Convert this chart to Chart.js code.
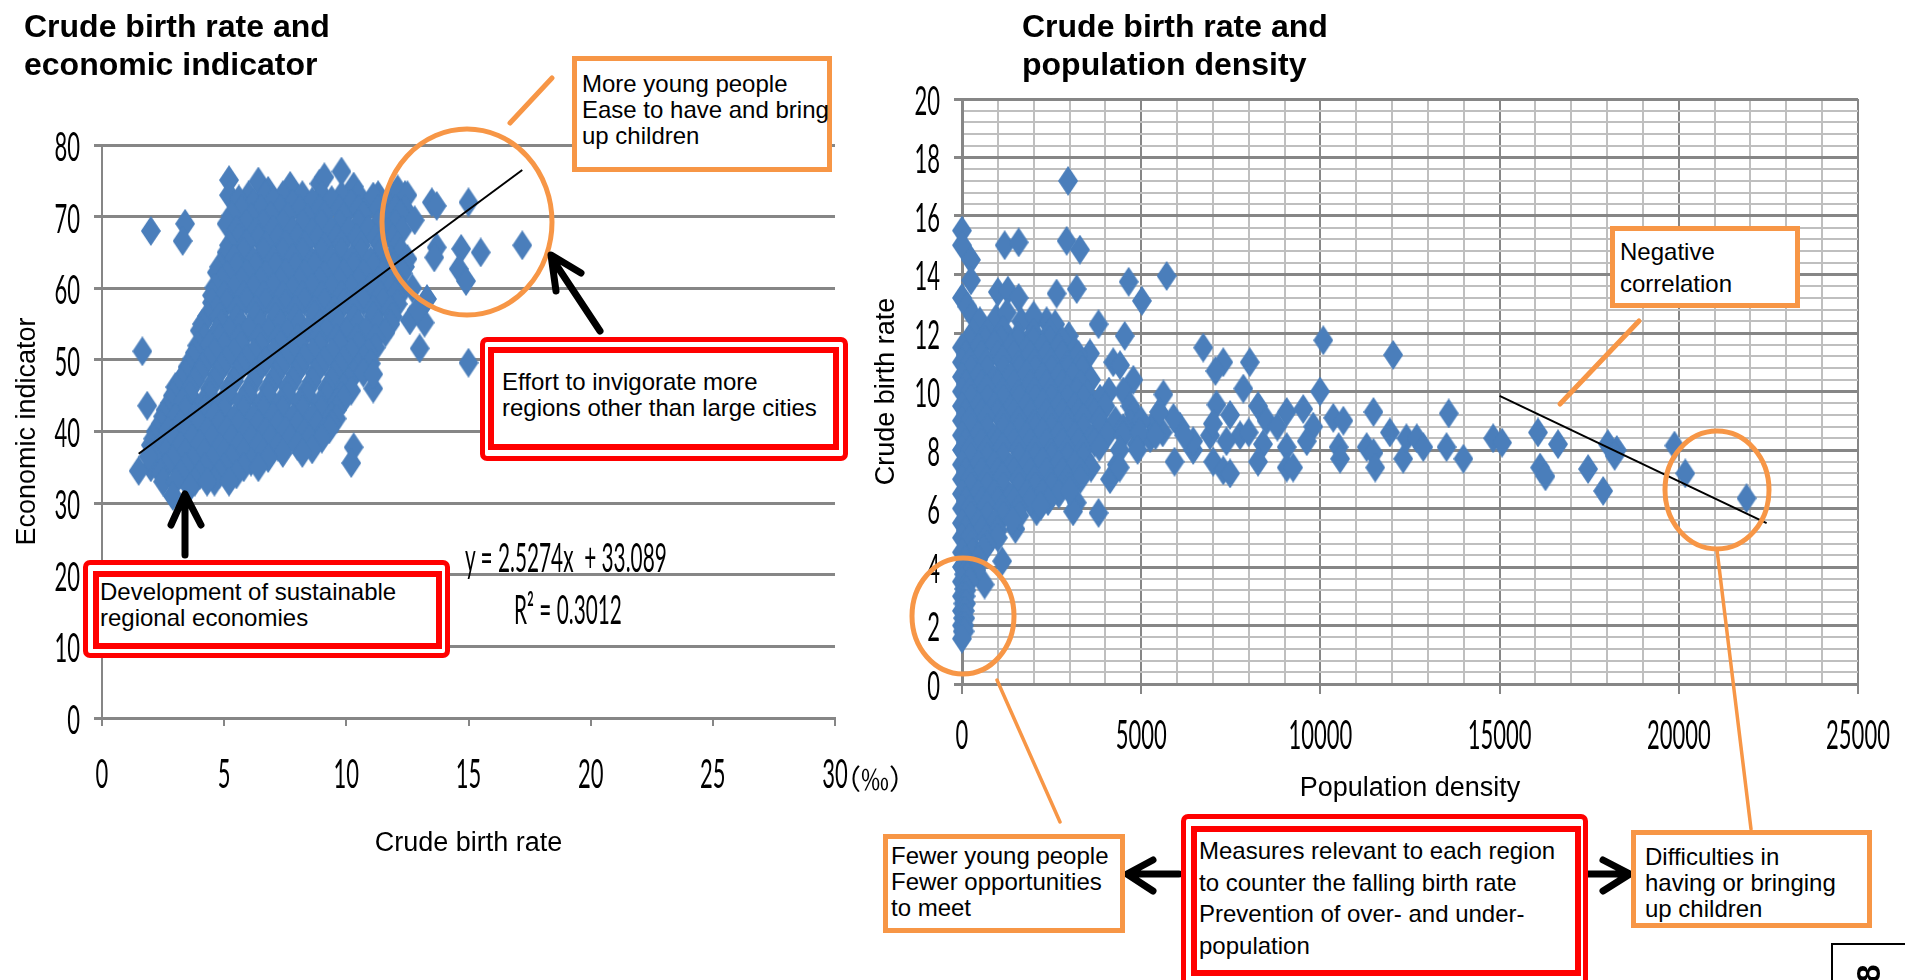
<!DOCTYPE html>
<html>
<head>
<meta charset="utf-8">
<title>Crude birth rate charts</title>
<script src="https://cdn.jsdelivr.net/npm/chart.js@4/dist/chart.umd.min.js"></script>
<style>
  html, body { margin: 0; padding: 0; background: #fff; overflow: hidden; }
  #page { position: relative; width: 1905px; height: 980px; overflow: hidden; font-family: "Liberation Sans", Arial, sans-serif; color: #000; }
  canvas { position: absolute; }
  svg { position: absolute; left: 0; top: 0; }
  .head { position: absolute; font-weight: bold; font-size: 32px; line-height: 38px; white-space: nowrap; }
  .box { position: absolute; box-sizing: border-box; background: #fff; white-space: nowrap; font-size: 24px; }
  .orange { border: 5px solid #f79646; }
  .outer { border: 5px solid #ff0000; border-radius: 7px; }
  .inner { border: 6px solid #ff0000; }
  .narrow { position: absolute; font-family: Lato, sans-serif; font-size: 40px; white-space: pre; transform-origin: left top; transform: scaleX(0.52); }
</style>
</head>
<body>
<div id="page">
  <canvas id="econChart" width="850" height="750" style="left:0;top:120px"></canvas>
  <canvas id="densityChart" width="1045" height="760" style="left:860px;top:80px"></canvas>

  <svg width="1905" height="980" fill="none" stroke-linecap="round" stroke-linejoin="round">
    <g stroke="#f79646" stroke-width="5">
      <ellipse cx="467" cy="222" rx="85" ry="93"/>
      <ellipse cx="963" cy="616" rx="51" ry="58"/>
      <ellipse cx="1717" cy="490" rx="52" ry="59"/>
      <path d="M510 123L552 78"/>
      <path d="M1639 321L1560 404"/>
    </g>
    <g stroke="#f79646" stroke-width="3.5">
      <path d="M997 680L1060 822"/>
      <path d="M1717 550L1751 829"/>
    </g>
    <g stroke="#000" stroke-width="7">
      <path d="M600 331L553 260M556 291L551 255L581 273"/>
      <path d="M185 555V498M171 525L185 494L201 525"/>
      <path d="M1179 874H1132M1153 860L1127 874L1153 891"/>
      <path d="M1583 874H1626M1603 860L1630 874L1603 891"/>
    </g>
  </svg>

  <div class="head" style="left:24px;top:7px">Crude birth rate and<br>economic indicator</div>
  <div class="head" style="left:1022px;top:7px">Crude birth rate and<br>population density</div>

  <div class="box orange" style="left:572px;top:56px;width:260px;height:116px;padding:10px 0 0 5px;line-height:26px">More young people<br>Ease to have and bring<br>up children</div>

  <div class="box outer" style="left:480px;top:337px;width:368px;height:124px"></div>
  <div class="box inner" style="left:488px;top:347px;width:351px;height:103px;padding:16px 0 0 8px;line-height:26px">Effort to invigorate more<br>regions other than large cities</div>

  <div class="box outer" style="left:83px;top:560px;width:367px;height:98px"></div>
  <div class="box inner" style="left:93px;top:571px;width:349px;height:78px;padding:2px 0 0 1px;line-height:26px">Development of sustainable<br>regional economies</div>

  <div class="narrow" style="left:465px;top:533px">y = 2.5274x  + 33.089</div>
  <div class="narrow" style="left:514px;top:585px">R² = 0.3012</div>

  <div style="position:absolute;left:833px;top:765px;font-family:'Noto Sans CJK JP',sans-serif;font-size:28px;line-height:26px;white-space:nowrap">（‰）</div>

  <div class="box orange" style="left:1610px;top:226px;width:190px;height:82px;padding:5px 0 0 5px;line-height:32px">Negative<br>correlation</div>

  <div class="box orange" style="left:883px;top:834px;width:242px;height:99px;padding:4px 0 0 3px;line-height:26px">Fewer young people<br>Fewer opportunities<br>to meet</div>

  <div class="box outer" style="left:1181px;top:814px;width:407px;height:180px"></div>
  <div class="box inner" style="left:1191px;top:826px;width:390px;height:150px;padding:3px 0 0 2px;line-height:31.5px">Measures relevant to each region<br>to counter the falling birth rate<br>Prevention of over- and under-<br>population</div>

  <div class="box orange" style="left:1631px;top:830px;width:241px;height:98px;padding:9px 0 0 9px;line-height:26px">Difficulties in<br>having or bringing<br>up children</div>

  <div style="position:absolute;left:1831px;top:943px;width:90px;height:60px;box-sizing:border-box;border:2px solid #000"></div>
  <div style="position:absolute;left:1859px;top:957px;font-weight:bold;font-size:33px;line-height:33px;transform:rotate(-90deg)">8</div>
</div>

<script>
// Birth rate (x) against economic indicator (y)
const econPoints = [
  [5.2,75.1],[6.4,74.9],[6.8,73.6],[7.7,74.3],[8.9,74.6],[9.1,75.5],[9.8,76.3],[10.3,74.2],
  [5.2,73],[6.0,73],[6.7,73],[7.4,73],[8.2,73],[9.0,73],[9.8,73],[10.5,73],[11.3,73],[12.4,73],
  [5.6,72.4],[6.2,71.9],[7.0,72.2],[7.8,71.8],[8.6,72.1],[9.4,72.3],[10.2,71.8],[11.0,72.0],[11.1,72.8],[11.8,71.9],[12.1,73.8],[12.5,73.0],
  [5.7,71],[6.5,71],[7.3,71],[8.1,71],[8.9,71],[9.7,71],[10.5,71],[11.3,71],[12.0,71],[12.4,71],
  [5.3,70.2],[6.1,69.9],[6.9,70.1],[7.6,70.0],[8.4,69.8],[9.1,70.2],[9.9,70.0],[10.7,70.1],[11.5,69.8],[12.2,70.3],
  [5.1,69],[5.9,69],[6.6,69],[7.4,69],[8.2,69],[9.0,69],[9.7,69],[10.5,69],[11.3,69],[12.0,69],
  [5.5,68.1],[6.3,67.9],[7.0,68.2],[7.8,68.0],[8.6,67.8],[9.4,68.1],[10.1,68.0],[10.9,68.2],[11.7,67.9],[12.3,68.1],
  [5.6,67],[6.4,67],[7.2,67],[8.0,67],[8.8,67],[9.6,67],[10.4,67],[11.2,67],[11.9,67],
  [5.2,66.0],[5.9,66.2],[6.7,65.9],[7.5,66.1],[8.3,66.0],[9.1,65.8],[9.8,66.1],[10.6,66.0],[11.4,66.2],[12.1,65.9],
  [5.1,65],[5.8,65],[6.6,65],[7.4,65],[8.2,65],[9.0,65],[9.8,65],[10.6,65],[11.4,65],[12.2,65],
  [5.4,64.1],[6.2,63.9],[7.0,64.0],[7.8,64.2],[8.6,63.8],[9.4,64.0],[10.2,64.1],[11.0,63.9],[11.8,64.0],[12.5,64.1],
  [4.8,63],[5.5,63],[6.3,63],[7.1,63],[7.9,63],[8.7,63],[9.5,63],[10.3,63],[11.1,63],[11.9,63],[12.4,63],
  [4.7,62.2],[5.1,61.8],[5.9,62.0],[6.7,61.9],[7.5,62.1],[8.3,62.0],[9.1,61.8],[9.9,62.1],[10.7,62.0],[11.5,61.9],[12.3,62.1],
  [4.9,61],[5.7,61],[6.5,61],[7.3,61],[8.1,61],[8.9,61],[9.7,61],[10.5,61],[11.3,61],[12.1,61],
  [4.6,60.1],[5.4,59.9],[6.2,60.0],[7.0,60.2],[7.8,59.8],[8.6,60.1],[9.4,60.0],[10.2,59.9],[11.0,60.1],[11.8,60.0],[12.3,59.7],
  [4.5,59],[5.0,59],[5.8,59],[6.6,59],[7.4,59],[8.2,59],[9.0,59],[9.8,59],[10.6,59],[11.4,59],[12.0,59],
  [4.5,58.0],[5.1,57.9],[5.9,58.2],[6.7,58.0],[7.5,57.8],[8.3,58.1],[9.1,58.0],[9.9,57.9],[10.7,58.1],[11.5,58.0],[12.1,57.8],
  [4.7,57],[5.5,57],[6.3,57],[7.1,57],[7.9,57],[8.7,57],[9.5,57],[10.3,57],[11.1,57],[11.8,57],
  [4.3,56.1],[4.8,56.0],[5.5,55.8],[6.3,56.1],[7.1,56.0],[7.9,55.9],[8.7,56.2],[9.5,56.0],[10.3,55.8],[11.1,56.1],[11.9,56.0],
  [4.1,55],[4.9,55],[5.7,55],[6.5,55],[7.3,55],[8.1,55],[8.9,55],[9.7,55],[10.5,55],[11.3,55],[11.8,55],
  [4.0,54.1],[4.7,53.9],[5.2,54.0],[6.0,54.2],[6.8,54.0],[7.6,53.8],[8.4,54.1],[9.2,54.0],[10.0,53.9],[10.8,54.1],[11.6,53.8],
  [4.2,53],[4.8,53],[5.6,53],[6.4,53],[7.2,53],[8.0,53],[8.8,53],[9.6,53],[10.4,53],[11.2,53],
  [3.9,52.0],[4.4,52.1],[5.0,51.9],[5.7,52.0],[6.5,51.8],[7.3,52.1],[8.1,52.0],[8.9,51.9],[9.7,52.2],[10.5,52.0],[11.2,51.7],
  [3.8,51],[4.6,51],[5.4,51],[6.2,51],[7.0,51],[7.8,51],[8.6,51],[9.4,51],[10.2,51],[10.9,51],
  [3.7,50.2],[4.3,49.9],[5.1,50.0],[5.9,50.1],[6.7,49.8],[7.5,50.0],[8.3,50.2],[9.1,49.9],[9.9,50.0],[10.7,50.1],[11.0,49.5],
  [3.5,49],[4.1,49],[4.9,49],[5.7,49],[6.5,49],[7.3,49],[8.1,49],[8.9,49],[9.7,49],[10.5,49],
  [3.4,48.0],[4.0,48.1],[4.7,47.9],[5.5,48.0],[6.3,48.2],[7.1,47.8],[7.9,48.0],[8.7,48.1],[9.5,47.9],[10.3,48.0],[10.7,48.2],
  [3.2,47],[3.8,47],[4.6,47],[5.4,47],[6.2,47],[7.0,47],[7.8,47],[8.6,47],[9.4,47],[10.1,47],
  [3.0,46.2],[3.6,45.9],[4.4,46.0],[5.2,46.1],[6.0,45.8],[6.8,46.0],[7.6,46.2],[8.4,45.9],[9.2,46.0],[9.9,46.1],[10.2,45.7],
  [2.9,45],[3.6,45],[4.4,45],[5.2,45],[6.0,45],[6.8,45],[7.6,45],[8.4,45],[9.2,45],[9.8,45],
  [2.8,44.0],[3.3,44.1],[4.1,43.9],[4.9,44.0],[5.7,44.2],[6.5,43.8],[7.3,44.0],[8.1,44.1],[8.9,43.9],[9.6,44.0],[9.9,44.5],
  [2.6,43],[3.4,43],[4.2,43],[5.0,43],[5.8,43],[6.6,43],[7.4,43],[8.2,43],[9.0,43],[9.6,43],
  [2.5,42.1],[3.0,41.9],[3.8,42.0],[4.6,42.2],[5.4,41.8],[6.2,42.0],[7.0,42.1],[7.8,41.9],[8.6,42.0],[9.4,42.1],[9.6,41.8],
  [2.4,41],[3.2,41],[4.0,41],[4.8,41],[5.6,41],[6.4,41],[7.2,41],[8.0,41],[8.8,41],[9.4,41],
  [2.2,40.0],[2.7,40.1],[3.5,39.9],[4.3,40.0],[5.1,40.2],[5.9,39.8],[6.7,40.0],[7.5,40.1],[8.3,39.9],[9.1,40.0],[9.3,40.3],
  [2.1,39],[2.9,39],[3.7,39],[4.5,39],[5.3,39],[6.1,39],[6.9,39],[7.7,39],[8.5,39],[9.0,39],
  [2.0,38.1],[2.4,37.9],[3.2,38.0],[4.0,38.2],[4.8,37.8],[5.6,38.0],[6.4,38.1],[7.2,37.9],[8.0,38.0],[8.6,37.5],
  [2.0,37],[2.6,37],[3.4,37],[4.2,37],[5.0,37],[5.8,37],[6.6,37],[7.4,37],[8.2,37],
  [2.2,36.0],[2.9,36.1],[3.7,35.9],[4.5,36.0],[5.3,36.2],[6.1,35.8],[6.8,36.3],
  [2.0,35],[2.6,35],[3.4,35],[4.2,35],[5.0,35],[5.8,35],[6.4,35],
  [2.4,34.2],[3.2,34.0],[4.0,33.9],[4.8,34.1],[5.5,34.0],
  [2.5,33],[3.0,33],[3.8,33],[4.6,33],[5.2,33],
  [2.9,31.0],[3.6,32.2],[4.3,33.0],
  [1.5,34.5],[1.9,36.5],[1.85,43.6],[1.65,51.2],[2.0,68.0],[3.4,69.0],[3.3,66.6],
  [17.2,66.0],[15.5,65.0],[14.7,65.5],[13.7,65.7],[13.6,64.3],[14.6,62.7],[14.9,61.0],[13.3,58.5],
  [12.6,55.5],[13.2,55.2],[13.0,51.6],[15.0,49.6],[11.1,46.0],[11.1,48.0],[10.3,37.8],[10.2,35.6],
  [13.5,72.0],[13.7,71.5],[15.0,72.0],[12.8,69.5],[12.7,60.0],[12.9,57.0]
];
const econTrend = [[1.5,36.9],[17.2,76.5]];
const econXTicks = [0, 5, 10, 15, 20, 25, 30];
const econYTicks = [0, 10, 20, 30, 40, 50, 60, 70, 80];
const econXTitle = "Crude birth rate";
const econYTitle = "Economic indicator";

// Population density (x) against birth rate (y)
const densityPoints = [
  [0,15.5],[0,15.0],[250,14.5],[250,13.8],[0,13.2],[150,12.9],[300,12.6],
  [1190,15.0],[1580,15.1],[2920,15.15],[3290,14.85],[2960,17.2],[3200,13.5],[2640,13.35],[1000,13.4],[1280,13.45],[1580,13.2],
  [4650,13.75],[5710,13.95],[5020,13.1],[3810,12.3],[4540,11.9],[2980,11.9],[2360,12.4],[1950,12.3],
  [6730,11.5],[7290,11.0],[7070,10.7],[8030,11.0],[10080,11.75],[12030,11.25],[9990,10.0],[7850,10.1],[5620,9.9],
  [3570,11.3],[4220,11.0],[4410,10.9],[4780,10.4],[4500,10.0],
  [7100,9.55],[7480,9.2],[8260,9.5],[8500,9.0],[9060,9.3],[9520,9.4],[9800,8.8],[9620,8.3],[9060,8.1],[8400,8.2],[8260,7.6],[9060,7.4],[9240,7.4],
  [7010,7.6],[7290,7.3],[7480,7.2],[5930,7.6],[6450,8.0],[6080,8.8],[7760,8.5],[7380,8.3],[6920,8.5],[6450,8.3],[5340,8.9],[5900,9.1],[4870,8.2],
  [5600,8.6],[5250,8.4],[5500,9.3],[6200,8.5],[7000,8.9],[8000,8.6],[8800,8.8],
  [10360,9.1],[10640,9.0],[11480,9.3],[10510,8.1],[10550,7.7],[11290,8.1],[11480,7.9],[11530,7.4],[11940,8.6],[12310,7.7],
  [12400,8.4],[12690,8.4],[12870,8.1],[13580,9.25],[13520,8.1],[13990,7.7],[14820,8.4],[15070,8.25],[16070,8.6],[16630,8.2],
  [16130,7.4],[16280,7.1],[17470,7.35],[17890,6.6],[18020,8.2],[18270,8.0],[18210,7.8],[19880,8.15],[20180,7.2],[21890,6.35],
  [630,3.4],[1120,4.2],[1490,5.3],[2080,5.9],[3200,6.2],[3810,5.85],[2210,6.3],[3100,5.9],[4130,7.0],[4320,7.5],
  [500,12.4],[950,12.5],[1250,12.7],[1650,12.4],[2000,12.6],[2600,12.3],
  [300,12.0],[700,12.0],[1150,12.1],[1550,11.9],[2000,12.0],[2450,12.0],
  [200,11.75],[650,11.75],[1100,11.75],[1550,11.75],[2000,11.75],[2450,11.75],[2800,11.75],
  [0,11.5],[450,11.5],[900,11.6],[1350,11.5],[1800,11.4],[2250,11.5],[2700,11.5],[3150,11.4],
  [100,11.25],[550,11.25],[1000,11.25],[1450,11.25],[1900,11.25],[2350,11.25],[2800,11.25],[3250,11.25],
  [0,11.0],[220,11.0],[680,11.0],[1130,11.1],[1580,10.9],[2030,11.0],[2480,11.0],[2930,10.9],[3300,10.9],
  [250,10.75],[700,10.75],[1150,10.75],[1600,10.75],[2050,10.75],[2500,10.75],[2950,10.75],[3350,10.75],
  [0,10.5],[450,10.5],[900,10.4],[1350,10.5],[1800,10.6],[2250,10.5],[2700,10.5],[3100,10.5],[3600,10.4],
  [100,10.25],[550,10.25],[1000,10.25],[1450,10.25],[1900,10.25],[2350,10.25],[2800,10.25],[3300,10.25],
  [0,10.0],[220,10.0],[680,10.1],[1130,10.0],[1580,9.9],[2030,10.0],[2480,10.0],[2930,10.1],[3200,10.0],[3500,9.9],[4100,10.0],
  [250,9.75],[700,9.75],[1150,9.75],[1600,9.75],[2050,9.75],[2500,9.75],[2950,9.75],[3400,9.75],[3850,9.75],
  [0,9.5],[450,9.5],[900,9.5],[1350,9.4],[1800,9.5],[2250,9.6],[2700,9.5],[3150,9.5],[3600,9.4],[4000,9.5],[4700,9.5],
  [100,9.25],[550,9.25],[1000,9.25],[1450,9.25],[1900,9.25],[2350,9.25],[2800,9.25],[3250,9.25],[3700,9.25],[4800,9.25],
  [0,9.0],[220,9.0],[680,9.1],[1130,9.0],[1580,9.0],[2030,8.9],[2480,9.0],[2930,9.0],[3380,9.1],[3830,9.0],[4280,9.0],[4700,8.9],[5000,9.0],
  [250,8.75],[700,8.75],[1150,8.75],[1600,8.75],[2050,8.75],[2500,8.75],[2950,8.75],[3400,8.75],[3850,8.75],[4500,8.75],
  [0,8.5],[450,8.5],[900,8.4],[1350,8.5],[1800,8.5],[2250,8.6],[2700,8.5],[3150,8.5],[3600,8.4],[4050,8.5],[4500,8.5],[4950,8.6],[5400,8.5],
  [100,8.25],[550,8.25],[1000,8.25],[1450,8.25],[1900,8.25],[2350,8.25],[2800,8.25],[3250,8.25],[3700,8.25],
  [0,8.0],[220,8.0],[680,8.0],[1130,8.1],[1580,8.0],[2030,8.0],[2480,7.9],[2930,8.0],[3380,8.0],[3830,8.1],[4400,8.0],[4900,8.0],
  [250,7.75],[700,7.75],[1150,7.75],[1600,7.75],[2050,7.75],[2500,7.75],[2950,7.75],[3400,7.75],
  [0,7.5],[450,7.5],[900,7.5],[1350,7.4],[1800,7.5],[2250,7.6],[2700,7.5],[3150,7.5],[3600,7.4],[4400,7.4],
  [100,7.25],[550,7.25],[1000,7.25],[1450,7.25],[1900,7.25],[2350,7.25],[2800,7.25],[3300,7.25],
  [0,7.0],[220,7.0],[680,7.0],[1130,7.1],[1580,7.0],[2030,7.0],[2480,6.9],[2930,7.0],[3300,7.0],
  [250,6.75],[700,6.75],[1150,6.75],[1600,6.75],[2050,6.75],[2500,6.75],[3000,6.75],
  [0,6.5],[450,6.5],[900,6.5],[1350,6.4],[1800,6.5],[2250,6.5],[2700,6.5],[3000,6.6],
  [100,6.25],[550,6.25],[1000,6.25],[1450,6.25],[1900,6.25],[2400,6.25],
  [0,6.0],[220,6.0],[680,6.1],[1130,6.0],[1580,6.0],[2200,6.1],
  [250,5.75],[700,5.75],[1150,5.75],[1600,5.75],
  [0,5.5],[450,5.5],[900,5.5],[1400,5.6],
  [100,5.25],[550,5.25],[1000,5.25],
  [0,5.0],[220,5.0],[680,5.0],[1000,5.0],
  [250,4.75],[700,4.75],
  [0,4.5],[300,4.5],[600,4.6],
  [100,4.25],[450,4.25],
  [0,4.0],[200,4.0],[400,3.9],
  [60,3.75],[150,3.7],
  [0,3.5],[200,3.5],
  [60,3.25],[120,3.2],
  [0,3.0],[100,3.0],
  [40,2.75],[110,2.75],
  [0,2.5],[80,2.5],
  [30,2.25],[90,2.25],
  [0,2.0],[60,2.0],
  [20,1.8],[70,1.8],
  [0,1.55]
];
const densityTrend = [[15000,9.85],[22450,5.5]];
const densityXTicks = [0, 5000, 10000, 15000, 20000, 25000];
const densityYTicks = [0, 2, 4, 6, 8, 10, 12, 14, 16, 18, 20];
const densityXTitle = "Population density";
const densityYTitle = "Crude birth rate";

const GREY = "#868686";
const LIGHT = "#bfbfbf";
const BLUE = "#4a7ebb";

// tall diamond used as the marker in both charts
const diamond = document.createElement("canvas");
diamond.width = 20;
diamond.height = 30;
const dc = diamond.getContext("2d");
dc.fillStyle = BLUE;
dc.beginPath();
dc.moveTo(10, 0);
dc.lineTo(20, 15);
dc.lineTo(10, 30);
dc.lineTo(0, 15);
dc.closePath();
dc.fill();

const toXY = ([x, y]) => ({ x, y });

// The tick numbers are tall and narrow in the picture, so draw them squeezed
const narrowTicks = {
  id: "narrowTicks",
  afterDraw(chart) {
    const ctx = chart.ctx;
    const squeeze = 0.55;
    ctx.save();
    ctx.font = "40px Lato, sans-serif";
    ctx.fillStyle = "#000";
    ctx.textBaseline = "middle";
    chart.scales.x.ticks.forEach((t, i) => {
      if (t.label === "") return;
      const px = chart.scales.x.getPixelForTick(i);
      ctx.save();
      ctx.translate(px, chart.scales.x.top + chart.options.labelDrop);
      ctx.scale(squeeze, 1);
      ctx.textAlign = "center";
      ctx.fillText(t.label, 0, 0);
      ctx.restore();
    });
    chart.scales.y.ticks.forEach((t, i) => {
      if (t.label === "") return;
      const py = chart.scales.y.getPixelForTick(i);
      ctx.save();
      ctx.translate(chart.scales.y.right - 22, py + 3);
      ctx.scale(squeeze, 1);
      ctx.textAlign = "right";
      ctx.fillText(t.label, 0, 0);
      ctx.restore();
    });
    ctx.restore();
  },
};

function series(points, trend) {
  return [
    {
      data: trend.map(toXY),
      showLine: true,
      borderColor: "#000",
      borderWidth: 2,
      pointRadius: 0,
      order: 0,
    },
    {
      data: points.map(toXY),
      pointStyle: diamond,
      pointRadius: 10,
      clip: false,
      order: 1,
    },
  ];
}

function axisTitle(text, padding) {
  return {
    display: true,
    text: text,
    color: "#000",
    font: { family: "'Liberation Sans', Arial, sans-serif", size: 27 },
    padding: padding,
  };
}

// Crude birth rate and economic indicator
new Chart(document.getElementById("econChart"), {
  type: "scatter",
  data: { datasets: series(econPoints, econTrend) },
  plugins: [narrowTicks],
  options: {
    responsive: false,
    animation: false,
    labelDrop: 57,
    layout: { padding: { top: 25, right: 15, left: 0, bottom: 0 } },
    plugins: { legend: { display: false }, tooltip: { enabled: false } },
    scales: {
      x: {
        min: econXTicks[0],
        max: econXTicks[econXTicks.length - 1],
        afterFit: (s) => { s.height = 870 - 718; },
        afterBuildTicks: (s) => { s.ticks = econXTicks.map((value) => ({ value })); },
        ticks: { display: false },
        grid: { drawOnChartArea: false, color: GREY, lineWidth: 2, tickLength: 8 },
        border: { color: GREY, width: 3 },
        title: axisTitle(econXTitle, { top: 0, bottom: 10 }),
      },
      y: {
        min: econYTicks[0],
        max: econYTicks[econYTicks.length - 1],
        afterFit: (s) => { s.width = 102; },
        afterBuildTicks: (s) => { s.ticks = econYTicks.map((value) => ({ value })); },
        ticks: { display: false },
        grid: { color: GREY, lineWidth: 3, tickLength: 8 },
        border: { color: GREY, width: 2 },
        title: axisTitle(econYTitle, { top: 11, bottom: 0 }),
      },
    },
  },
});

// Crude birth rate and population density: minor lines every 1000 and 0.4
const densityMinorX = [];
for (let v = 0; v <= 25000; v += 1000) densityMinorX.push(v);
const densityMinorY = [];
for (let i = 0; i <= 50; i++) densityMinorY.push(Math.round(i * 4) / 10);

new Chart(document.getElementById("densityChart"), {
  type: "scatter",
  data: { datasets: series(densityPoints, densityTrend) },
  plugins: [narrowTicks],
  options: {
    responsive: false,
    animation: false,
    labelDrop: 52,
    layout: { padding: { top: 19, right: 47, left: 0, bottom: 0 } },
    plugins: { legend: { display: false }, tooltip: { enabled: false } },
    scales: {
      x: {
        min: densityXTicks[0],
        max: densityXTicks[densityXTicks.length - 1],
        afterFit: (s) => { s.height = 840 - 684; },
        afterBuildTicks: (s) => { s.ticks = densityMinorX.map((value) => ({ value })); },
        ticks: {
          display: false,
          callback: (v) => (densityXTicks.includes(v) ? String(v) : ""),
        },
        grid: {
          color: (c) => (densityXTicks.includes(c.tick.value) ? GREY : LIGHT),
          tickColor: (c) => (densityXTicks.includes(c.tick.value) ? GREY : "rgba(0,0,0,0)"),
          lineWidth: 2,
          tickLength: 10,
        },
        border: { color: GREY, width: 3 },
        title: axisTitle(densityXTitle, { top: 0, bottom: 35 }),
      },
      y: {
        min: densityYTicks[0],
        max: densityYTicks[densityYTicks.length - 1],
        afterFit: (s) => { s.width = 102; },
        afterBuildTicks: (s) => { s.ticks = densityMinorY.map((value) => ({ value })); },
        ticks: {
          display: false,
          callback: (v) => (densityYTicks.includes(v) ? String(v) : ""),
        },
        grid: {
          color: (c) => (densityYTicks.includes(c.tick.value) ? GREY : LIGHT),
          tickColor: (c) => (densityYTicks.includes(c.tick.value) ? GREY : "rgba(0,0,0,0)"),
          lineWidth: (c) => (densityYTicks.includes(c.tick.value) ? 3 : 2),
          tickLength: 8,
        },
        border: { color: GREY, width: 3 },
        title: axisTitle(densityYTitle, { top: 10, bottom: 0 }),
      },
    },
  },
});
</script>
</body>
</html>
